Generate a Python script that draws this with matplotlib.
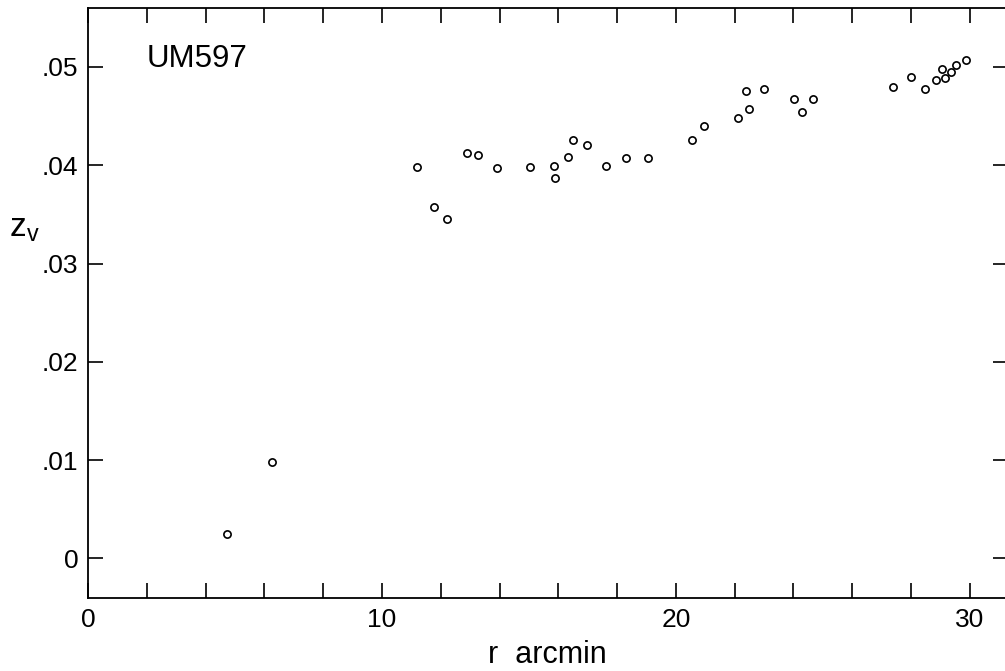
import matplotlib
matplotlib.use("Agg")
import matplotlib.pyplot as plt

# r (arcmin) y z_v
r_arcmin = [4.74, 6.27, 11.21, 11.76, 12.22, 12.88, 13.28, 13.90, 15.04, 15.86,
            15.89, 16.33, 16.51, 16.97, 17.64, 18.30, 19.06, 20.54, 20.97, 22.10,
            22.39, 22.48, 22.99, 24.02, 24.30, 24.67, 27.39, 28.00, 28.49, 28.84,
            29.07, 29.15, 29.36, 29.52, 29.87]
z_v = [0.00246, 0.00986, 0.03980, 0.03579, 0.03457, 0.04129, 0.04109, 0.03977,
       0.03987, 0.03997, 0.03875, 0.04082, 0.04262, 0.04208, 0.03990, 0.04071,
       0.04078, 0.04262, 0.04401, 0.04479, 0.04754, 0.04577, 0.04771, 0.04676,
       0.04544, 0.04672, 0.04794, 0.04900, 0.04778, 0.04866, 0.04978, 0.04883,
       0.04947, 0.05025, 0.05069]

y_ticks = [0, 0.01, 0.02, 0.03, 0.04, 0.05]
y_labels = ['0', '.01', '.02', '.03', '.04', '.05']
x_ticks = [0, 10, 20, 30]
x_labels = ['0', '10', '20', '30']

plt.rcParams['font.family'] = ['Liberation Sans', 'DejaVu Sans']

fig = plt.figure(figsize=(10.05, 6.71), dpi=100)
ax = fig.add_axes([88 / 1005, 1 - 598 / 671, 920 / 1005, 590 / 671])

ax.plot(r_arcmin, z_v, linestyle='none', marker='o', markersize=5.2,
        markerfacecolor='white', markeredgecolor='black', markeredgewidth=1.2)

ax.set_xlim(0, 31.3)
ax.set_ylim(-0.00402, 0.05600)

ax.set_xticks(x_ticks)
ax.set_xticklabels(x_labels)
ax.set_xticks([2, 4, 6, 8, 12, 14, 16, 18, 22, 24, 26, 28], minor=True)
ax.set_yticks(y_ticks)
ax.set_yticklabels(y_labels)

ax.tick_params(axis='both', which='both', direction='in', top=True, right=True,
               width=1.2, length=11, labelsize=19, colors='black')
ax.tick_params(axis='x', which='major', pad=7)
ax.tick_params(axis='y', which='major', pad=7)
for s in ax.spines.values():
    s.set_linewidth(1.3)

ax.text(2.0, 0.0500, 'UM597', fontsize=22.5, ha='left', va='baseline')

fig.text(24 / 1005, 1 - 228 / 671, r'$\mathregular{z_v}$', fontsize=24,
         ha='center', va='center')
fig.text(547 / 1005, 1 - 663 / 671, 'r  arcmin', fontsize=22,
         ha='center', va='baseline')

fig.savefig('out.png', dpi=100)
